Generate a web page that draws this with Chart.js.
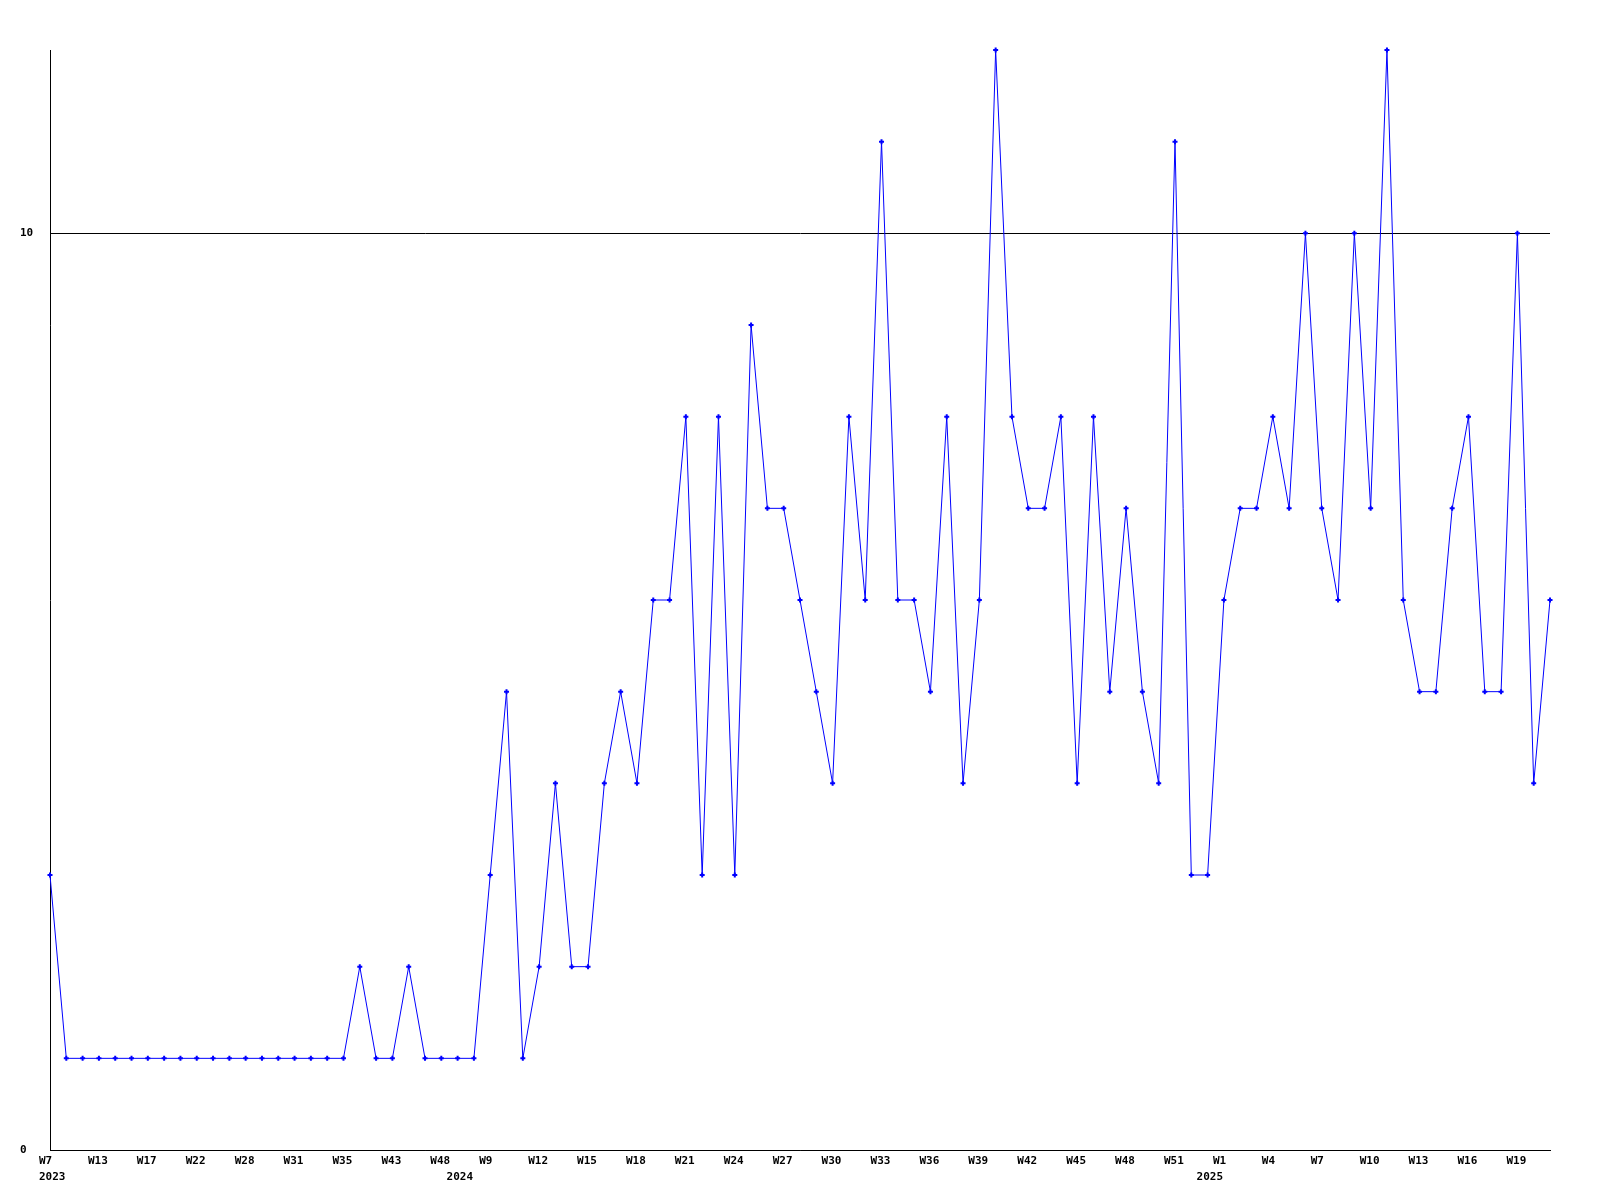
<!DOCTYPE html>
<html>
<head>
<meta charset="utf-8">
<script src="https://cdn.jsdelivr.net/npm/chart.js@4.4.0/dist/chart.umd.min.js"></script>
<style>
  html, body { margin: 0; padding: 0; background: #ffffff; }
  #wrap { width: 1600px; height: 1200px; }
</style>
</head>
<body>
<div id="wrap"><canvas id="c" width="1600" height="1200"></canvas></div>
<script>
// Week category of every point
const weeks = [
  'W7','W9','W11','W13','W14','W16','W17','W19','W20','W22','W24','W26','W28','W29','W30','W31','W33','W34','W35','W38','W40','W43','W45','W46','W48',
  'W7','W8','W9','W10','W11','W12','W13','W14','W15','W16','W17','W18','W19','W20','W21','W22','W23','W24','W25','W26','W27','W28','W29','W30',
  'W31','W32','W33','W34','W35','W36','W37','W38','W39','W40','W41','W42','W43','W44','W45','W46','W47','W48','W49','W50','W51','W52',
  'W0','W1','W2','W3','W4','W5','W6','W7','W8','W9','W10','W11','W12','W13','W14','W15','W16','W17','W18','W19','W20','W21'
];
// Year label shown under the first point of each year: [index, year]
const yearStarts = [[0, '2023'], [25, '2024'], [71, '2025']];
// Series values
const values = [
  3,1,1,1,1,1,1,1,1,1,1,1,1,1,1,1,1,1,1,2,1,1,2,1,1,
  1,1,3,5,1,2,4,2,2,4,5,4,6,6,8,3,8,3,9,7,7,6,5,4,8,6,11,6,6,5,8,4,6,12,8,7,7,8,4,8,5,7,5,4,11,3,
  3,6,7,7,8,7,10,7,6,10,7,12,6,5,5,7,8,5,5,10,4,6
];
// Y tick values shown
const yTicks = [0, 10];

const monoFont = { family: 'DejaVu Sans Mono', size: 11, weight: 'bold', lineHeight: 16 / 11 };
const yearMap = {};
yearStarts.forEach(([i, y]) => { yearMap[i] = y; });

new Chart(document.getElementById('c'), {
  type: 'line',
  data: {
    labels: weeks,
    datasets: [{
      data: values,
      borderColor: '#0000ff',
      backgroundColor: '#0000ff',
      borderWidth: 1,
      tension: 0,
      pointStyle: 'cross',
      pointRadius: 2.5,
      pointBorderWidth: 2,
      pointBorderColor: '#0000ff',
      pointHoverRadius: 2.5,
      fill: false,
      clip: false
    }]
  },
  options: {
    responsive: false,
    animation: false,
    devicePixelRatio: 1,
    layout: { padding: { left: 20, right: 50, top: 50, bottom: 0 } },
    plugins: { legend: { display: false }, tooltip: { enabled: false } },
    scales: {
      x: {
        type: 'category',
        offset: false,
        grid: { display: false, drawTicks: false },
        border: { display: true, color: '#000000', width: 1 },
        afterFit: (s) => { s.height = 50; },
        ticks: {
          autoSkip: false,
          maxRotation: 0,
          minRotation: 0,
          align: 'start',
          labelOffset: -11,
          padding: 3,
          color: '#000000',
          font: monoFont,
          callback: function (value, index) {
            const w = (index % 3 === 0) ? weeks[index] : '';
            const y = yearMap[index];
            if (y) return [w, y];
            if (w) return w;
            return null;
          }
        }
      },
      y: {
        min: 0,
        max: 12,
        afterBuildTicks: (s) => { s.ticks = yTicks.map(v => ({ value: v })); },
        afterFit: (s) => { s.width = 30; },
        grid: {
          display: true,
          drawTicks: false,
          color: '#000000',
          lineWidth: 1
        },
        border: { display: true, color: '#000000', width: 1 },
        ticks: {
          crossAlign: 'far',
          padding: 0,
          color: '#000000',
          font: monoFont
        }
      }
    }
  }
});
</script>
</body>
</html>
